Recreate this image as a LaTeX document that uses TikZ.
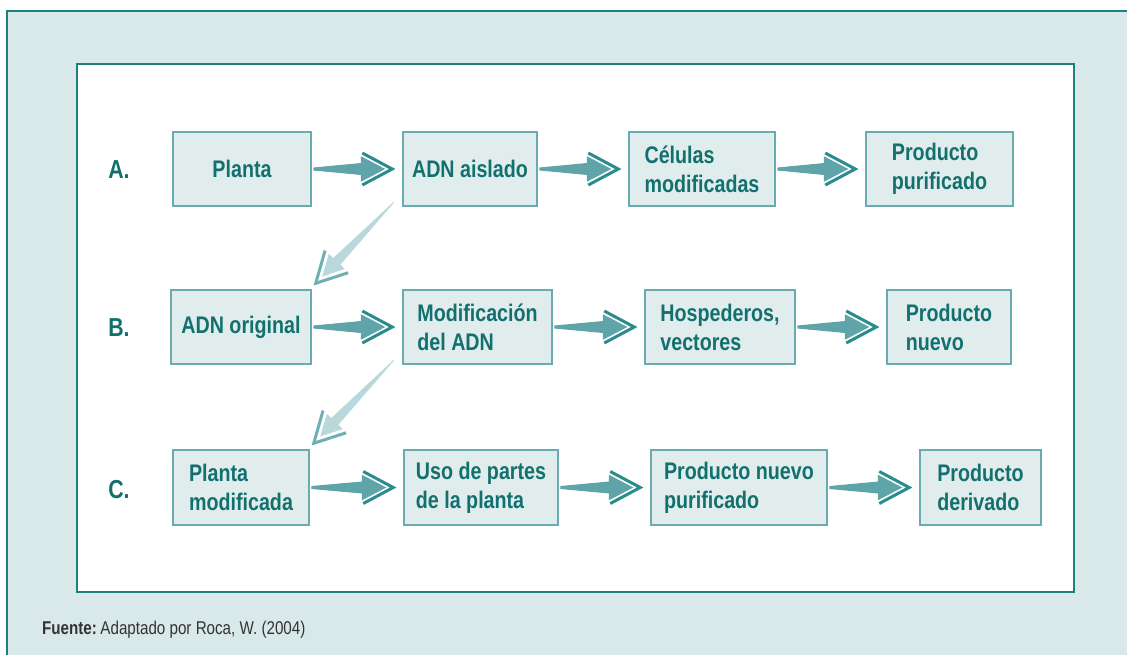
\documentclass[tikz,border=0pt]{standalone}
\usepackage{fontspec}
\setmainfont{Liberation Sans}
\newfontfamily\nar[FakeStretch=0.82]{Liberation Sans}
\usetikzlibrary{calc}
\definecolor{framec}{HTML}{1F7E7E}
\definecolor{bgband}{HTML}{D9E8E8}
\definecolor{boxfill}{HTML}{E1EDED}
\definecolor{boxline}{HTML}{68ABB0}
\definecolor{txt}{HTML}{12706E}
\definecolor{arrfill}{HTML}{5FA4A9}
\definecolor{arrline}{HTML}{2A8C8C}
\definecolor{darrfill}{HTML}{B8D8DB}
\definecolor{darrline}{HTML}{6FB0B4}
\definecolor{footc}{HTML}{333333}

% #1 start, #2 chevron tip, #3 fill colour, #4 chevron colour, #5 head outline
\newcommand\fancyarrow[5]{%
  \coordinate (fa-hb) at ($(#2)!31pt!(#1)$);
  \coordinate (fa-ht) at ($(#2)!8pt!(#1)$);
  \coordinate (fa-ca) at ($(#2)!30pt!(#1)$);
  \draw[#4, line width=3pt] ($(fa-ca)!16pt!90:(#2)$) -- (#2) -- ($(fa-ca)!16pt!-90:(#2)$);
  \filldraw[fill=#3, draw=#5, line width=1pt] ($(#1)!1pt!90:(#2)$) -- ($(fa-hb)!5.5pt!90:(#2)$)
    -- ($(fa-hb)!12pt!90:(#2)$) -- (fa-ht) -- ($(fa-hb)!12pt!-90:(#2)$)
    -- ($(fa-hb)!5.5pt!-90:(#2)$) -- ($(#1)!1pt!-90:(#2)$) -- cycle;
}
\newcommand\hlink[2]{%
  \coordinate (s-#1) at ($(#1.east)+(2,0)$);
  \coordinate (c-#1) at ($(#2.west)+(-10,0)$);
  \fancyarrow{s-#1}{c-#1}{arrfill}{arrline}{arrfill}%
}
\newcommand\dlink[2]{%
  \coordinate (s-#1) at ($(#1.south west)+(-8,-5)$);
  \coordinate (c-#1) at ($(#2.north east)+(4,-6)$);
  \fancyarrow{s-#1}{c-#1}{darrfill}{darrline}{white}%
}

\begin{document}
\begin{tikzpicture}[x=1pt,y=-1pt,
  box/.style={draw=boxline, fill=boxfill, line width=1.5pt, inner sep=0pt,
    align=left, text=txt, font=\nar\bfseries\fontsize{24}{29}\selectfont},
  lbl/.style={text=txt, font=\nar\bfseries\fontsize{26}{30}\selectfont, inner sep=0pt}]
\useasboundingbox (0,0) rectangle (1127,654);
\fill[bgband] (7,10) rectangle (1135,660);
\draw[framec, line width=2pt] (7,662) -- (7,11) -- (1135,11);
\draw[framec, line width=2pt, fill=white] (77,64) rectangle (1074,592);

% row labels
\node[lbl] (la) at (119,170) {A.};
\node[lbl] (lb) at (119,328) {B.};
\node[lbl] (lc) at (119,490) {C.};

% row A
\node[box, minimum width=138, minimum height=74] (planta) at (242,169) {Planta};
\node[box, minimum width=134, minimum height=74] (adnais) at (470,169) {ADN aislado};
\node[box, minimum width=146, minimum height=74] (celulas) at (702,169) {Células\\modificadas};
\node[box, minimum width=147, minimum height=74] (prodpur) at (939.5,169) {Producto\\purificado};
% row B
\node[box, minimum width=140, minimum height=74] (adnorig) at (241,327) {ADN original};
\node[box, minimum width=149, minimum height=74] (modif) at (477.5,327) {Modificación\\del ADN};
\node[box, minimum width=150, minimum height=74] (hosp) at (720,327) {Hospederos,\\vectores};
\node[box, minimum width=124, minimum height=74] (prodnuevo) at (949,327) {Producto\\nuevo};
% row C
\node[box, minimum width=136, minimum height=75] (plantamod) at (241,487.5) {Planta\\modificada};
\node[box, minimum width=154, minimum height=75] (uso) at (481,487.5) {Uso de partes\\de la planta};
\node[box, minimum width=176, minimum height=75] (prodnp) at (739,487.5) {Producto nuevo\\purificado};
\node[box, minimum width=121, minimum height=75] (prodder) at (980.5,487.5) {Producto\\derivado};

% arrows
\hlink{planta}{adnais}
\hlink{adnais}{celulas}
\hlink{celulas}{prodpur}
\hlink{adnorig}{modif}
\hlink{modif}{hosp}
\hlink{hosp}{prodnuevo}
\hlink{plantamod}{uso}
\hlink{uso}{prodnp}
\hlink{prodnp}{prodder}
\dlink{adnais}{adnorig}
\dlink{modif}{plantamod}

% source
\node[anchor=base west, inner sep=0pt, text=footc, font=\nar\fontsize{18.5}{22}\selectfont] (src) at (42,634)
  {\textbf{Fuente:}\hspace{3.5pt}Adaptado por Roca, W. (2004)};
\end{tikzpicture}
\end{document}
